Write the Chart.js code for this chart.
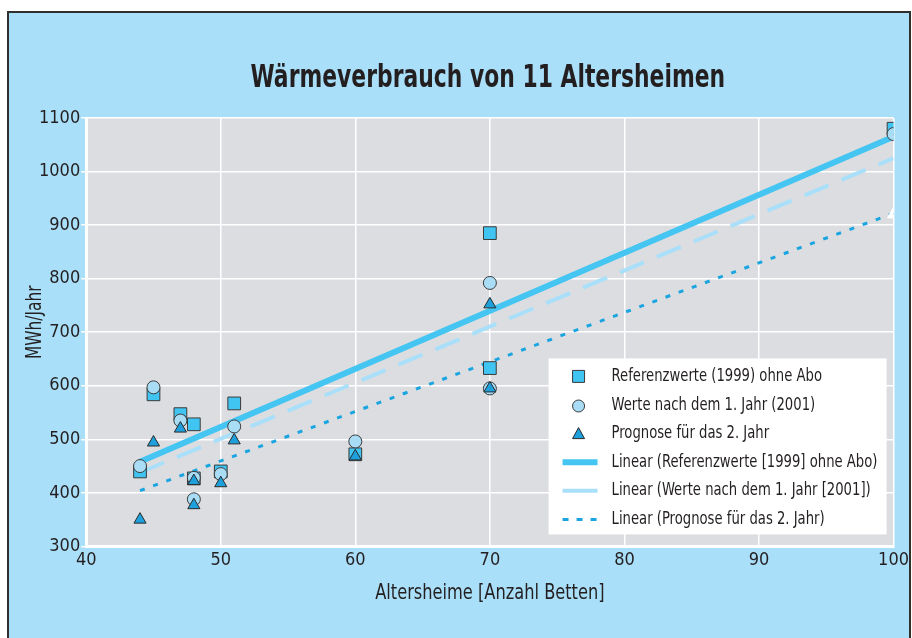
<!DOCTYPE html>
<html>
<head>
<meta charset="utf-8">
<script src="https://cdn.jsdelivr.net/npm/chart.js@4.4.1/dist/chart.umd.min.js"></script>
<style>
html, body { margin: 0; padding: 0; background: #fff; }
#frame { position: absolute; left: 7px; top: 11px; width: 904px; height: 640px; background: #aadff9;
  border: 2px solid #2f2f2f; border-bottom: none; box-sizing: border-box; }
#myChart { position: absolute; left: 0; top: 0; }
</style>
</head>
<body>
<div id="frame"></div>
<canvas id="myChart" width="912" height="638"></canvas>
<script>
// Anzahl Betten je Altersheim
const beds = [44, 45, 47, 48, 48, 50, 51, 60, 70, 70, 100];
// MWh/Jahr
const ref1999 = [440, 584, 547, 528, 427, 440, 567, 472, 885, 633, 1080];
const after2001 = [450, 597, 535, 428, 388, 435, 524, 496, 792, 595, 1070];
const prog2 = [350, 494, 520, 422, 377, 418, 498, 468, 752, 595, 920];

// Trendlinien (Endpunkte)
const trendX = [44, 100];
const trendRef = [458, 1065];
const trend2001 = [438, 1025];
const trendProg = [404, 922];

const yTicks = [300, 400, 500, 600, 700, 800, 900, 1000, 1100];
const xTicks = [40, 50, 60, 70, 80, 90, 100];

const titleText = 'Wärmeverbrauch von 11 Altersheimen';
const xTitle = 'Altersheime [Anzahl Betten]';
const yTitle = 'MWh/Jahr';
const legendLabels = [
	'Referenzwerte (1999) ohne Abo',
	'Werte nach dem 1. Jahr (2001)',
	'Prognose für das 2. Jahr',
	'Linear (Referenzwerte [1999] ohne Abo)',
	'Linear (Werte nach dem 1. Jahr [2001])',
	'Linear (Prognose für das 2. Jahr)'
];

const FONT = "'DejaVu Sans Condensed', 'Liberation Sans Narrow', sans-serif";
const TXT = '#231f20';

const pts = (xs, ys) => xs.map((x, i) => ({ x: x, y: ys[i] }));

// schmal gestauchter Text (Original ist Futura Condensed)
const narrowText = (c, t, x, y, font, sx, rot) => {
	c.save();
	c.translate(x, y);
	if (rot) c.rotate(rot);
	c.scale(sx, 1);
	c.font = font;
	c.fillStyle = TXT;
	c.textAlign = 'center';
	c.textBaseline = 'middle';
	c.fillText(t, 0, 0);
	c.restore();
};

// graue Zeichenfläche
const plotBg = {
	id: 'plotBg',
	beforeDraw(chart) {
		const a = chart.chartArea;
		const c = chart.ctx;
		c.save();
		c.fillStyle = '#dcdde0';
		c.fillRect(a.left, a.top, a.right - a.left, a.bottom - a.top);
		c.restore();
	}
};

// Titel und Achsentitel
const texts = {
	id: 'texts',
	afterDraw(chart) {
		const a = chart.chartArea;
		const c = chart.ctx;
		narrowText(c, titleText, (a.left + a.right) / 2 - 2, a.top - 39, 'bold 32px ' + FONT, 0.76);
		narrowText(c, xTitle, (a.left + a.right) / 2, a.bottom + 47, '22px ' + FONT, 0.82);
		narrowText(c, yTitle, 35, (a.top + a.bottom) / 2 - 10, '22px ' + FONT, 0.78, -Math.PI / 2);
	}
};

// Legende im Diagramm (unten rechts)
const boxLegend = {
	id: 'boxLegend',
	afterDraw(chart) {
		const a = chart.chartArea;
		const c = chart.ctx;
		const w = 338, h = 176;
		const x0 = a.right - 7 - w, y0 = a.bottom - 12 - h;
		c.save();
		c.fillStyle = '#ffffff';
		c.fillRect(x0, y0, w, h);
		const sx = x0 + 30;
		chart.data.datasets.forEach((ds, i) => {
			const y = y0 + 18 + i * 28.6;
			c.save();
			if (ds.type === 'line') {
				c.strokeStyle = ds.borderColor;
				c.lineWidth = ds.borderWidth;
				c.setLineDash(i === 5 ? [6, 8] : []);
				c.beginPath();
				c.moveTo(sx - 16, y);
				c.lineTo(sx + 19, y);
				c.stroke();
			} else {
				c.fillStyle = ds.backgroundColor;
				c.strokeStyle = ds.borderColor;
				c.lineWidth = 1;
				c.beginPath();
				if (ds.pointStyle === 'rect') c.rect(sx - 6, y - 6, 12, 12);
				else if (ds.pointStyle === 'circle') c.arc(sx, y + 1, 6, 0, Math.PI * 2);
				else { c.moveTo(sx, y - 6); c.lineTo(sx + 6, y + 5); c.lineTo(sx - 6, y + 5); c.closePath(); }
				c.fill();
				c.stroke();
			}
			c.restore();
			c.save();
			c.translate(x0 + 63, y);
			c.scale(0.815, 1);
			c.font = '18px ' + FONT;
			c.fillStyle = TXT;
			c.textBaseline = 'middle';
			c.fillText(legendLabels[i], 0, 0);
			c.restore();
		});
		c.restore();
	}
};

const ctx = document.getElementById('myChart').getContext('2d');
let myChart = new Chart(ctx, {
	type: 'scatter',
	data: {
		datasets: [
			{
				label: legendLabels[0],
				data: pts(beds, ref1999),
				pointStyle: 'rect',
				pointRadius: 9,
				backgroundColor: '#40c4f2',
				borderColor: '#3b3b3b',
				borderWidth: 1,
				order: 3
			},
			{
				label: legendLabels[1],
				data: pts(beds, after2001),
				pointStyle: 'circle',
				pointRadius: 6.5,
				backgroundColor: '#a9ddf6',
				borderColor: '#3b3b3b',
				borderWidth: 1,
				order: 2
			},
			{
				label: legendLabels[2],
				data: pts(beds, prog2),
				pointStyle: 'triangle',
				pointRadius: 7,
				backgroundColor: '#1ea0dc',
				borderColor: '#2b2b2b',
				pointBackgroundColor: beds.map(b => b === 100 ? '#ffffff' : '#1ea0dc'),
				pointBorderColor: beds.map(b => b === 100 ? '#ffffff' : '#2b2b2b'),
				borderWidth: 1,
				order: 1
			},
			{
				type: 'line',
				label: legendLabels[3],
				data: pts(trendX, trendRef),
				borderColor: '#45c5f1',
				borderWidth: 6,
				pointRadius: 0,
				order: 6
			},
			{
				type: 'line',
				label: legendLabels[4],
				data: pts(trendX, trend2001),
				borderColor: '#a9dff9',
				borderWidth: 4,
				borderDash: [26, 14],
				pointRadius: 0,
				order: 5
			},
			{
				type: 'line',
				label: legendLabels[5],
				data: pts(trendX, trendProg),
				borderColor: '#1aa5e0',
				borderWidth: 3,
				borderDash: [5, 9],
				pointRadius: 0,
				order: 4
			}
		]
	},
	options: {
		responsive: false,
		animation: false,
		layout: { padding: { left: 38, right: 12, top: 118, bottom: 64 } },
		plugins: {
			legend: { display: false },
			tooltip: { enabled: false },
			title: { display: false }
		},
		scales: {
			x: {
				min: 40,
				max: 100,
				afterBuildTicks: s => { s.ticks = xTicks.map(v => ({ value: v })); },
				grid: { color: '#ffffff', lineWidth: 1.5, drawTicks: false },
				border: { color: '#ffffff', width: 3 },
				ticks: { color: TXT, font: { family: FONT, size: 18 }, padding: 3, callback: v => String(v) }
			},
			y: {
				min: 300,
				max: 1100,
				afterBuildTicks: s => { s.ticks = yTicks.map(v => ({ value: v })); },
				grid: { color: '#ffffff', lineWidth: 1.5, tickLength: 5, tickColor: '#ffffff' },
				border: { color: '#ffffff', width: 3 },
				ticks: { color: TXT, font: { family: FONT, size: 18 }, padding: 1, callback: v => String(v) }
			}
		}
	},
	plugins: [plotBg, texts, boxLegend]
});
</script>
</body>
</html>
